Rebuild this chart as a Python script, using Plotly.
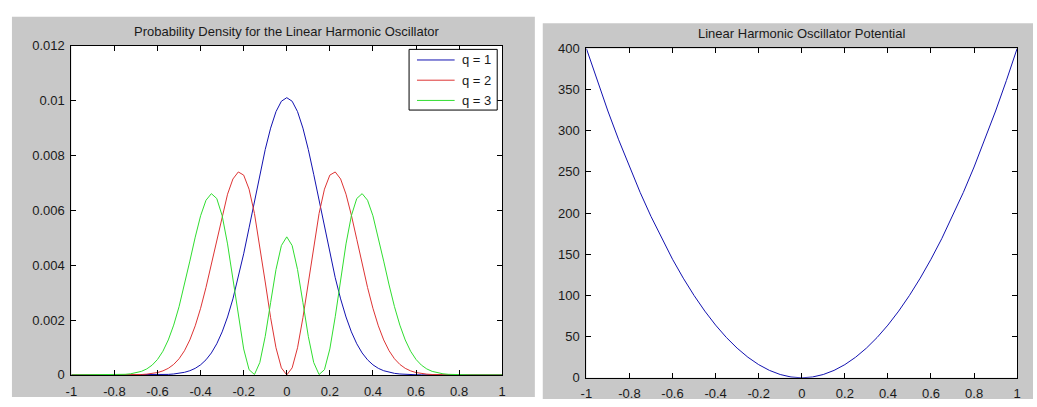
import plotly.graph_objects as go

# ---------------- data ----------------
x_left = [-1.0, -0.975, -0.95, -0.925, -0.9, -0.875, -0.85, -0.825, -0.8, -0.775,
          -0.75, -0.725, -0.7, -0.675, -0.65, -0.625, -0.6, -0.575, -0.55, -0.525,
          -0.5, -0.475, -0.45, -0.425, -0.4, -0.375, -0.35, -0.325, -0.3, -0.275,
          -0.25, -0.225, -0.2, -0.175, -0.15, -0.125, -0.1, -0.075, -0.05, -0.025,
          0.0,
          0.025, 0.05, 0.075, 0.1, 0.125, 0.15, 0.175, 0.2, 0.225, 0.25,
          0.275, 0.3, 0.325, 0.35, 0.375, 0.4, 0.425, 0.45, 0.475, 0.5,
          0.525, 0.55, 0.575, 0.6, 0.625, 0.65, 0.675, 0.7, 0.725, 0.75,
          0.775, 0.8, 0.825, 0.85, 0.875, 0.9, 0.925, 0.95, 0.975, 1.0]

q1 = [0, 0, 0, 0, 0, 0, 0, 0, 0, 0,
      0.0000001, 0.0000002, 0.0000004, 0.0000008, 0.0000016, 0.0000031, 0.0000059, 0.0000108, 0.0000193, 0.0000336,
      0.0000571, 0.0000946, 0.000153, 0.000240, 0.000368, 0.000550, 0.000800, 0.001134, 0.001568, 0.002111,
      0.002770, 0.003542, 0.004413, 0.005358, 0.006340, 0.007309, 0.008212, 0.008990, 0.009591, 0.009970,
      0.010100,
      0.009970, 0.009591, 0.008990, 0.008212, 0.007309, 0.006340, 0.005358, 0.004413, 0.003542, 0.002770,
      0.002111, 0.001568, 0.001134, 0.000800, 0.000550, 0.000368, 0.000240, 0.000153, 0.0000946, 0.0000571,
      0.0000336, 0.0000193, 0.0000108, 0.0000059, 0.0000031, 0.0000016, 0.0000008, 0.0000004, 0.0000002, 0.0000001,
      0, 0, 0, 0, 0, 0, 0, 0, 0, 0]

q2 = [0, 0, 0, 0, 0, 0, 0.0000001, 0.0000002, 0.0000005, 0.0000010,
      0.0000021, 0.0000041, 0.0000080, 0.0000152, 0.0000280, 0.0000501, 0.0000870, 0.000147, 0.000240, 0.000382,
      0.000589, 0.000880, 0.001275, 0.001789, 0.002428, 0.003187, 0.004041, 0.004941, 0.005818, 0.006583,
      0.007138, 0.007394, 0.007279, 0.006767, 0.005882, 0.004709, 0.003386, 0.002085, 0.000989, 0.000257,
      0.0,
      0.000257, 0.000989, 0.002085, 0.003386, 0.004709, 0.005882, 0.006767, 0.007279, 0.007394, 0.007138,
      0.006583, 0.005818, 0.004941, 0.004041, 0.003187, 0.002428, 0.001789, 0.001275, 0.000880, 0.000589,
      0.000382, 0.000240, 0.000147, 0.0000870, 0.0000501, 0.0000280, 0.0000152, 0.0000080, 0.0000041, 0.0000021,
      0.0000010, 0.0000005, 0.0000002, 0.0000001, 0, 0, 0, 0, 0, 0]

q3 = [0, 0, 0, 0.0000001, 0.0000003, 0.0000006, 0.0000013, 0.0000028, 0.0000057, 0.0000115,
      0.0000220, 0.0000408, 0.0000737, 0.000129, 0.000218, 0.000357, 0.000564, 0.000863, 0.001274, 0.001814,
      0.002488, 0.003278, 0.004146, 0.005019, 0.005798, 0.006364, 0.006604, 0.006427, 0.005802, 0.004773,
      0.003476, 0.002118, 0.000946, 0.000191, 0.0000148, 0.000454, 0.001404, 0.002635, 0.003839, 0.004712,
      0.005030,
      0.004712, 0.003839, 0.002635, 0.001404, 0.000454, 0.0000148, 0.000191, 0.000946, 0.002118, 0.003476,
      0.004773, 0.005802, 0.006427, 0.006604, 0.006364, 0.005798, 0.005019, 0.004146, 0.003278, 0.002488,
      0.001814, 0.001274, 0.000863, 0.000564, 0.000357, 0.000218, 0.000129, 0.0000737, 0.0000408, 0.0000220,
      0.0000115, 0.0000057, 0.0000028, 0.0000013, 0.0000006, 0.0000003, 0.0000001, 0, 0, 0]

series_names = ["q = 1", "q = 2", "q = 3"]

x_right = [-1.0, -0.95, -0.9, -0.85, -0.8, -0.75, -0.7, -0.65, -0.6, -0.55,
           -0.5, -0.45, -0.4, -0.35, -0.3, -0.25, -0.2, -0.15, -0.1, -0.05,
           0.0,
           0.05, 0.1, 0.15, 0.2, 0.25, 0.3, 0.35, 0.4, 0.45, 0.5,
           0.55, 0.6, 0.65, 0.7, 0.75, 0.8, 0.85, 0.9, 0.95, 1.0]
potential = [400, 361, 324, 289, 256, 225, 196, 169, 144, 121,
             100, 81, 64, 49, 36, 25, 16, 9, 4, 1,
             0,
             1, 4, 9, 16, 25, 36, 49, 64, 81, 100,
             121, 144, 169, 196, 225, 256, 289, 324, 361, 400]

x_tick_vals = [-1, -0.8, -0.6, -0.4, -0.2, 0, 0.2, 0.4, 0.6, 0.8, 1]
x_tick_text = ["-1", "-0.8", "-0.6", "-0.4", "-0.2", "0", "0.2", "0.4", "0.6", "0.8", "1"]
yl_tick_vals = [0, 0.002, 0.004, 0.006, 0.008, 0.01, 0.012]
yl_tick_text = ["0", "0.002", "0.004", "0.006", "0.008", "0.01", "0.012"]
yr_tick_vals = [0, 50, 100, 150, 200, 250, 300, 350, 400]
yr_tick_text = ["0", "50", "100", "150", "200", "250", "300", "350", "400"]

title_left = "Probability Density for the Linear Harmonic Oscillator"
title_right = "Linear Harmonic Oscillator Potential"

# ---------------- styling ----------------
W, H = 1037, 407
FONT = "Liberation Sans, Arial, sans-serif"
FS = 13
TXT = "#1a1a1a"
GRAY = "#c8c8c8"
colors = ["#1212b0", "#dd3434", "#30dd30"]

# legend box geometry (pixels, MATLAB-style boxed legend in the upper right)
LEG_BOX = (407, 44, 496, 107)       # left, top, right, bottom
LEG_ROWS = [55, 76, 97]             # row centres
LEG_LINE = (415, 453)               # sample line x-extent
LEG_TEXT_X = 458


def px_x(p):
    return p / W


def px_y(p):
    return 1 - p / H


fig = go.Figure()
for name, ys, c in zip(series_names, [q1, q2, q3], colors):
    fig.add_trace(go.Scatter(x=x_left, y=ys, mode="lines", name=name, showlegend=False,
                             line=dict(color=c, width=1), xaxis="x", yaxis="y"))
fig.add_trace(go.Scatter(x=x_right, y=potential, mode="lines", showlegend=False,
                         line=dict(color=colors[0], width=1), xaxis="x2", yaxis="y2"))

axis_common = dict(showline=True, linecolor="black", linewidth=1, mirror="ticks",
                   ticks="inside", ticklen=5, tickcolor="black", tickwidth=1,
                   showgrid=False, zeroline=False,
                   tickfont=dict(family=FONT, size=FS, color=TXT))

shapes = [
    dict(type="rect", xref="paper", yref="paper", x0=px_x(6), x1=px_x(534),
         y0=px_y(405), y1=px_y(10), fillcolor=GRAY, line=dict(width=0), layer="below"),
    dict(type="rect", xref="paper", yref="paper", x0=px_x(542), x1=1,
         y0=0, y1=px_y(17), fillcolor=GRAY, line=dict(width=0), layer="below"),
    dict(type="rect", xref="x domain", yref="y domain", x0=0, x1=1, y0=0, y1=1,
         fillcolor="white", line=dict(width=0), layer="below"),
    dict(type="rect", xref="x2 domain", yref="y2 domain", x0=0, x1=1, y0=0, y1=1,
         fillcolor="white", line=dict(width=0), layer="below"),
    # legend frame
    dict(type="rect", xref="paper", yref="paper",
         x0=px_x(LEG_BOX[0]), x1=px_x(LEG_BOX[2]), y0=px_y(LEG_BOX[3]), y1=px_y(LEG_BOX[1]),
         fillcolor="white", line=dict(color="black", width=1), layer="above"),
]
annotations = [
    dict(text=title_left, xref="x domain", yref="paper", x=0.5, y=px_y(25),
         xanchor="center", yanchor="middle", showarrow=False,
         font=dict(family=FONT, size=FS, color=TXT)),
    dict(text=title_right, xref="x2 domain", yref="paper", x=0.5, y=px_y(27),
         xanchor="center", yanchor="middle", showarrow=False,
         font=dict(family=FONT, size=FS, color=TXT)),
]
for name, c, row in zip(series_names, colors, LEG_ROWS):
    shapes.append(dict(type="line", xref="paper", yref="paper",
                       x0=px_x(LEG_LINE[0]), x1=px_x(LEG_LINE[1]), y0=px_y(row), y1=px_y(row),
                       line=dict(color=c, width=1), layer="above"))
    annotations.append(dict(text=name, xref="paper", yref="paper", x=px_x(LEG_TEXT_X), y=px_y(row),
                            xanchor="left", yanchor="middle", showarrow=False,
                            font=dict(family=FONT, size=FS, color=TXT)))

fig.update_layout(
    width=W, height=H,
    margin=dict(l=0, r=0, t=0, b=0),
    paper_bgcolor="white",
    plot_bgcolor="rgba(0,0,0,0)",
    font=dict(family=FONT, size=FS, color=TXT),
    showlegend=False,
    xaxis=dict(domain=[px_x(66), px_x(501)], range=[-1, 1], anchor="y",
               tickmode="array", tickvals=x_tick_vals, ticktext=x_tick_text,
               ticklabelstandoff=4, **axis_common),
    yaxis=dict(domain=[px_y(382), px_y(40)], range=[0, 0.012], anchor="x",
               tickmode="array", tickvals=yl_tick_vals, ticktext=yl_tick_text,
               ticklabelstandoff=3, **axis_common),
    xaxis2=dict(domain=[px_x(586), px_x(1021)], range=[-1, 1], anchor="y2",
                tickmode="array", tickvals=x_tick_vals, ticktext=x_tick_text,
                ticklabelstandoff=4, **axis_common),
    yaxis2=dict(domain=[px_y(385), px_y(43)], range=[0, 400], anchor="x2",
                tickmode="array", tickvals=yr_tick_vals, ticktext=yr_tick_text,
                ticklabelstandoff=3, **axis_common),
    shapes=shapes,
    annotations=annotations,
)

fig.write_html("out.html")
